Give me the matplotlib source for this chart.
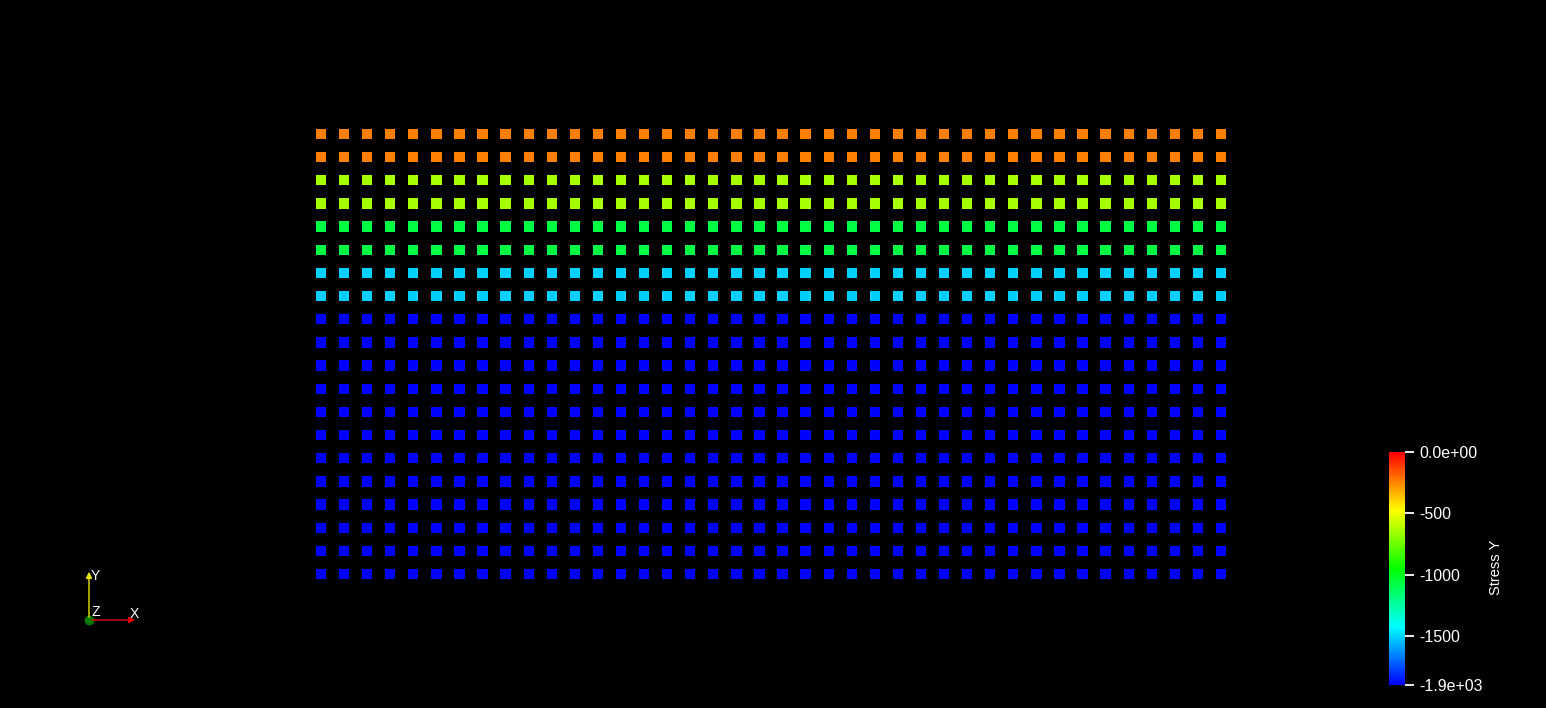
import numpy as np
import matplotlib
matplotlib.use("Agg")
import matplotlib.pyplot as plt
from matplotlib.colors import LinearSegmentedColormap, Normalize

# -------------------------------------------------------------
#  Particle grid coloured by Stress Y (ParaView-like render)
# -------------------------------------------------------------
plt.rcParams["font.family"] = ["Liberation Sans", "DejaVu Sans"]

# grid coordinates (column index, row index from bottom)
col_pos = list(range(40))
row_pos = list(range(20))

# stress per row, bottom row first (each row is uniform)
row_stress = [-1900, -1900, -1900, -1900, -1900, -1900, -1900, -1900,
              -1900, -1900, -1900, -1900,
              -1510, -1510, -1070, -1070, -640, -640, -240, -240]

cbar_ticks = [0, -500, -1000, -1500, -1900]
cbar_labels = ["0.0e+00", "-500", "-1000", "-1500", "-1.9e+03"]

W, H = 1546, 708
fig = plt.figure(figsize=(W / 100, H / 100), dpi=100, facecolor="black")

# rainbow map blue -> red
cmap = LinearSegmentedColormap.from_list(
    "rainbow_pv", ["#0000ff", "#00ffff", "#00ff00", "#ffff00", "#ff0000"])
norm = Normalize(vmin=-1900, vmax=0)

ax = fig.add_axes([0, 0, 1, 1])
ax.set_facecolor("black")
ax.axis("off")

xx, yy = np.meshgrid(col_pos, row_pos)
ss = np.repeat(np.array(row_stress)[:, None], len(col_pos), axis=1)
sc = ax.scatter(xx.ravel(), yy.ravel(), c=ss.ravel(), cmap=cmap, norm=norm,
                marker="s", s=55, linewidths=0)

# map model coords to the render window
dx = 900 / 39
dy = 440 / 19
ax.set_xlim(-321 / dx, (W - 321) / dx)
ax.set_ylim((574 - H) / dy, 574 / dy)

# ---- colour bar ----
cax = fig.add_axes([1389 / W, (H - 685) / H, 16 / W, 233 / H])
cb = fig.colorbar(sc, cax=cax, ticks=cbar_ticks)
cb.ax.set_yticklabels(cbar_labels)
cb.outline.set_visible(False)
cb.ax.tick_params(colors="white", length=6.5, width=1.3, pad=4, labelsize=11.5)
fig.text(1496 / W, 1 - 567 / H, "Stress Y", rotation=90, ha="center",
         va="center", color="white", fontsize=10.5)

# ---- orientation triad ----
ax2 = fig.add_axes([0, 0, 1, 1])
ax2.set_xlim(0, W)
ax2.set_ylim(H, 0)
ax2.axis("off")
ax2.patch.set_alpha(0)
ax2.annotate("", xy=(89, 569), xytext=(89, 620),
             arrowprops=dict(arrowstyle="-|>", color="#e6e600", lw=1, mutation_scale=9))
ax2.annotate("", xy=(138, 620), xytext=(89, 620),
             arrowprops=dict(arrowstyle="-|>", color="#e00000", lw=1, mutation_scale=9))
ax2.plot(89, 620, "o", color="#007a00", ms=7, mec="none")
ax2.text(91, 576, "Y", color="white", fontsize=10, ha="left", va="center")
ax2.text(130, 614, "X", color="white", fontsize=10, ha="left", va="center")
ax2.text(92, 612, "Z", color="white", fontsize=10, ha="left", va="center")

fig.savefig("out.png", dpi=100, facecolor="black")
